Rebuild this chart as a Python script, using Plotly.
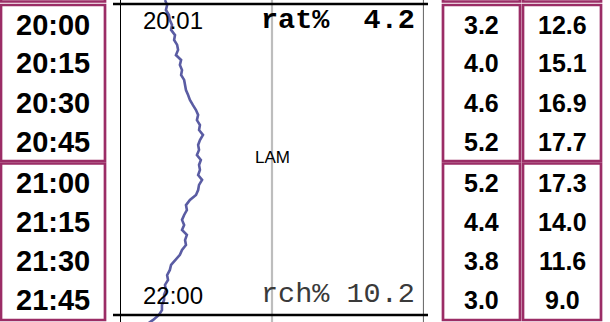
import plotly.graph_objects as go

# ---- data ----
times = ["20:00", "20:15", "20:30", "20:45", "21:00", "21:15", "21:30", "21:45"]
col_rat = ["3.2", "4.0", "4.6", "5.2", "5.2", "4.4", "3.8", "3.0"]
col_rch = ["12.6", "15.1", "16.9", "17.7", "17.3", "14.0", "11.6", "9.0"]

# blue trace: minutes after 20:00 and value (0..100 scale)
trace_min = [-1.5, 0.4, 2.3, 4.2, 6.2, 8.1, 10.0, 12.0, 13.9, 15.8, 17.7, 19.7, 21.6, 23.5,
             25.5, 27.4, 29.3, 31.3, 33.2, 35.1, 37.0, 39.0, 40.9, 42.8, 44.8, 46.7, 48.6,
             50.5, 52.5, 54.4, 56.3, 58.3, 60.2, 62.1, 64.0, 66.0, 67.9, 69.8, 71.8, 73.7,
             75.6, 77.6, 79.5, 81.4, 83.3, 85.3, 87.2, 89.1, 91.1, 93.0, 94.9, 96.8, 98.8,
             100.7, 102.6, 104.6, 106.5, 108.4, 110.4, 112.3, 114.2, 116.1, 118.1, 120.0,
             121.9, 123.8]
trace_val = [14.8, 15.5, 15.1, 16.1, 16.4, 17.1, 16.8, 18.1, 17.8, 18.8, 19.1, 18.4, 20.1, 19.7,
             20.4, 20.1, 21.1, 21.4, 21.7, 22.4, 23.0, 24.0, 25.0, 25.7, 25.3, 26.3, 26.0,
             27.3, 26.3, 25.7, 26.0, 25.3, 26.6, 26.0, 26.3, 25.7, 27.0, 26.0, 25.7, 25.0,
             23.0, 21.7, 22.0, 21.1, 20.4, 21.1, 20.4, 22.0, 21.4, 21.7, 20.4, 19.7, 18.1,
             16.8, 16.4, 15.5, 15.8, 14.8, 15.1, 14.5, 14.5, 13.8, 13.8, 12.8,
             10.9, 8.6]

label_start = "20:01"
label_end = "22:00"
rat_text = "rat%  4.2"
rch_text = "rch% 10.2"
center_label = "LAM"

# ---- layout constants ----
W, H = 610, 322
MAG = "#9b2d66"
BLUE = "#5a5ca3"

def py(p):
    return 1 - p / H

def px(p):
    return p / W

fig = go.Figure()
fig.add_trace(go.Scatter(x=trace_val, y=trace_min, mode="lines",
                         line=dict(color=BLUE, width=2.6), hoverinfo="skip", showlegend=False))

shapes = []
# plot frame lines
shapes.append(dict(type="line", xref="x", yref="paper", x0=50, x1=50, y0=0, y1=1,
                   line=dict(color="#bdbdbd", width=2.2), layer="below"))
shapes.append(dict(type="line", xref="x", yref="paper", x0=0, x1=0, y0=0, y1=1,
                   line=dict(color="black", width=2)))
shapes.append(dict(type="line", xref="x", yref="paper", x0=100, x1=100, y0=0, y1=1,
                   line=dict(color="#707070", width=2.2)))
for m in (0, 120):
    shapes.append(dict(type="line", xref="paper", yref="y", x0=px(113), x1=px(428), y0=m, y1=m,
                       line=dict(color="black", width=2.5)))

# table boxes
box_rows = [(-40, 1.5), (5, 161), (163.5, 320)]
box_cols = [(1, 105), (443, 520), (523, 601)]
for (c0, c1) in box_cols:
    for (r0, r1) in box_rows:
        shapes.append(dict(type="rect", xref="paper", yref="paper",
                           x0=px(c0), x1=px(c1), y0=py(r1), y1=py(r0),
                           line=dict(color=MAG, width=2.7), fillcolor="rgba(0,0,0,0)"))

annotations = []
row_h = (161 - 5) / 4
for i, t in enumerate(times):
    top = 5 if i < 4 else 163.5
    yc = top + row_h * (i % 4 + 0.5)
    annotations.append(dict(text=f"<b>{t}</b>", x=px(53), y=py(yc), xref="paper", yref="paper",
                            showarrow=False, xanchor="center", yanchor="middle",
                            font=dict(family="Liberation Sans, Arial", size=29, color="black")))
    annotations.append(dict(text=f"<b>{col_rat[i]}</b>", x=px(481.5), y=py(yc), xref="paper", yref="paper",
                            showarrow=False, xanchor="center", yanchor="middle",
                            font=dict(family="Liberation Sans, Arial", size=25, color="black")))
    annotations.append(dict(text=f"<b>{col_rch[i]}</b>", x=px(562), y=py(yc), xref="paper", yref="paper",
                            showarrow=False, xanchor="center", yanchor="middle",
                            font=dict(family="Liberation Sans, Arial", size=25, color="black")))

annotations.append(dict(text=label_start, x=px(141), y=py(21), xref="paper", yref="paper",
                        showarrow=False, xanchor="left", yanchor="middle",
                        font=dict(family="Liberation Sans, Arial", size=24, color="black")))
annotations.append(dict(text=label_end, x=px(141), y=py(295), xref="paper", yref="paper",
                        showarrow=False, xanchor="left", yanchor="middle",
                        font=dict(family="Liberation Sans, Arial", size=24, color="black")))
annotations.append(dict(text=f"<b>{rat_text}</b>".replace(" ", "&nbsp;"), x=px(417), y=py(21),
                        xref="paper", yref="paper", showarrow=False, xanchor="right", yanchor="middle",
                        font=dict(family="Liberation Mono, Courier New", size=28.5, color="black")))
annotations.append(dict(text=rch_text.replace(" ", "&nbsp;"), x=px(417), y=py(294),
                        xref="paper", yref="paper", showarrow=False, xanchor="right", yanchor="middle",
                        font=dict(family="Liberation Mono, Courier New", size=28.5, color="#3a3a3a")))
annotations.append(dict(text=center_label, x=px(272), y=py(158), xref="paper", yref="paper",
                        showarrow=False, xanchor="center", yanchor="middle",
                        font=dict(family="Liberation Sans, Arial", size=17, color="black")))

fig.update_layout(
    width=W, height=H, margin=dict(l=0, r=0, t=0, b=0),
    paper_bgcolor="white", plot_bgcolor="rgba(0,0,0,0)",
    xaxis=dict(domain=[px(120), px(424)], range=[0, 100], visible=False, fixedrange=True),
    yaxis=dict(domain=[0, 1], range=[122.7, -1.54], visible=False, fixedrange=True),
    shapes=shapes, annotations=annotations, showlegend=False,
)

fig.write_html("out.html", config={"displayModeBar": False})
